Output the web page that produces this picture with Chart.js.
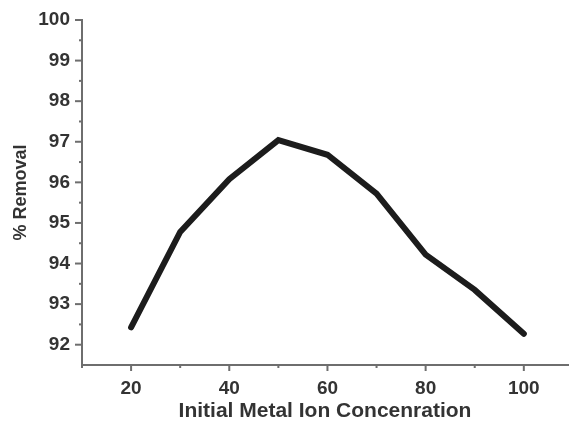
<!DOCTYPE html>
<html><head><meta charset="utf-8">
<script src="https://cdn.jsdelivr.net/npm/chart.js@4"></script>
<style>html,body{margin:0;padding:0;background:#fff}#wrap{width:570px;height:426px}</style>
</head><body><div id="wrap"><canvas id="c"></canvas></div>
<script>
const concentrations = [20, 30, 40, 50, 60, 70, 80, 90, 100];
const removal = [92.43, 94.78, 96.08, 97.04, 96.68, 95.72, 94.22, 93.35, 92.27];
const xTitle = 'Initial Metal Ion Concenration';
const yTitle = '% Removal';

const axisColor = '#6e6e6e';
const textColor = '#333333';

const tickPlugin = {
  id: 'minorTicks',
  afterDraw(chart) {
    const ctx = chart.ctx;
    ctx.save();
    ctx.strokeStyle = axisColor;
    ctx.lineWidth = 2;
    const xs = chart.scales.x, ys = chart.scales.y;
    xs.ticks.forEach(t => {
      if (Math.abs(t.value % 10) > 1e-6) return;
      const major = Math.abs(t.value % 20) < 1e-6;
      const px = xs.getPixelForValue(t.value);
      ctx.beginPath();
      ctx.moveTo(px, xs.top);
      ctx.lineTo(px, xs.top + (major ? 6 : 3));
      ctx.stroke();
    });
    ys.ticks.forEach(t => {
      if (t.value < 92 - 1e-6) return;
      const major = Math.abs(t.value - Math.round(t.value)) < 1e-6;
      const py = ys.getPixelForValue(t.value);
      ctx.beginPath();
      ctx.moveTo(ys.right, py);
      ctx.lineTo(ys.right - (major ? 7 : 3), py);
      ctx.stroke();
    });
    ctx.restore();
  }
};

new Chart(document.getElementById('c'), {
  type: 'line',
  data: {
    datasets: [{
      data: concentrations.map((x, i) => ({x, y: removal[i]})),
      borderColor: '#1c1c1c',
      borderWidth: 6,
      pointRadius: 0,
      tension: 0,
      borderJoinStyle: 'miter',
      borderCapStyle: 'round'
    }]
  },
  options: {
    responsive: true,
    maintainAspectRatio: false,
    animation: false,
    layout: { padding: { top: 20, right: 2, left: 0, bottom: 0 } },
    plugins: { legend: { display: false }, tooltip: { enabled: false } },
    scales: {
      x: {
        type: 'linear',
        min: 10, max: 109,
        afterFit(s) { s.height = 61; },
        border: { color: axisColor, width: 2 },
        grid: { drawOnChartArea: false, tickLength: 8, tickColor: 'rgba(0,0,0,0)' },
        ticks: {
          stepSize: 10,
          includeBounds: false,
          autoSkip: false,
          maxRotation: 0,
          padding: 4,
          color: textColor,
          font: { family: 'Liberation Sans, Arial, sans-serif', size: 19, weight: 'bold' },
          callback: v => (v % 20 === 0 && v >= 20 && v <= 100) ? String(v) : ''
        },
        title: {
          display: true, text: xTitle, color: textColor,
          font: { family: 'Liberation Sans, Arial, sans-serif', size: 21, weight: 'bold' },
          padding: { top: 0, bottom: 2 }
        }
      },
      y: {
        min: 91.5, max: 100,
        afterFit(s) { s.width = 82; },
        border: { color: axisColor, width: 2 },
        grid: { drawOnChartArea: false, tickLength: 8, tickColor: 'rgba(0,0,0,0)' },
        ticks: {
          stepSize: 0.5,
          autoSkip: false,
          padding: 4,
          color: textColor,
          font: { family: 'Liberation Sans, Arial, sans-serif', size: 19, weight: 'bold' },
          callback: v => (Math.abs(v - Math.round(v)) < 1e-6 && v >= 92) ? String(Math.round(v)) : ''
        },
        title: {
          display: true, text: yTitle, color: textColor,
          font: { family: 'Liberation Sans, Arial, sans-serif', size: 18, weight: 'bold' },
          padding: { top: 10, bottom: 0 }
        }
      }
    }
  },
  plugins: [tickPlugin]
});
</script></body></html>
